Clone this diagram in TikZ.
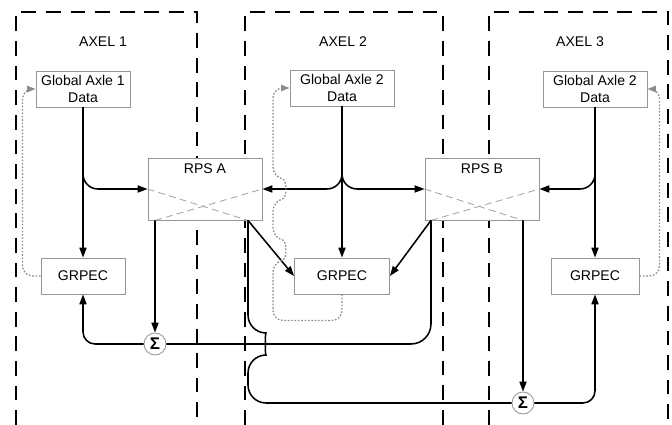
\documentclass[tikz,border=0pt]{standalone}
\usepackage{fontspec}
\setmainfont{Liberation Sans}
\usepackage{xcolor}
\usepackage{tikz}
\usetikzlibrary{
  arrows.meta,
  positioning,
  calc
}
\definecolor{boxgray}{RGB}{150,150,150}
\definecolor{crossgray}{RGB}{165,165,165}
\definecolor{fbgray}{RGB}{140,140,140}

\begin{document}
\begin{tikzpicture}[
  x=0.025cm, y=-0.025cm,
  every node/.style={font=\normalsize},
  axelframe/.style={line width=2pt, dash pattern=on 10.5pt off 7pt},
  datanode/.style={rectangle, draw=boxgray, fill=white, line width=0.6pt,
    align=center, minimum height=0.9cm, inner sep=2pt},
  rpsnode/.style={rectangle, draw=boxgray, fill=white, line width=0.6pt,
    minimum width=2.85cm, minimum height=1.55cm},
  rpslabel/.style={anchor=north, inner sep=4pt},
  sumnode/.style={circle, draw=boxgray, fill=white, line width=0.6pt,
    minimum size=0.55cm, inner sep=0pt, font=\large\bfseries},
  crossline/.style={draw=crossgray, line width=0.6pt, dash pattern=on 5pt off 3pt},
  arr/.style={-{Triangle[length=7pt,width=5pt]}, line width=1.1pt},
  wire/.style={line width=1.1pt},
  fbarr/.style={-{Triangle[length=6pt,width=4.5pt]}, color=fbgray,
    line width=0.9pt, dash pattern=on 1.2pt off 1.2pt},
]
  \useasboundingbox (0,0) rectangle (672,425);

  % Axle frames
  \draw[axelframe] (16,425) -- (16,12) -- (197,12) -- (197,425);
  \draw[axelframe] (245,425) -- (245,12) -- (443,12) -- (443,425);
  \draw[axelframe] (489,425) -- (489,12) -- (668,12) -- (668,425);

  % Nodes
  \node (ax1) at (103,42) {AXEL 1};
  \node (ax2) at (343,42) {AXEL 2};
  \node (ax3) at (580,42) {AXEL 3};
  \node[datanode, minimum width=2.35cm] (g1) at (83,89) {Global Axle 1\\Data};
  \node[datanode, minimum width=2.6cm] (g2) at (342,88) {Global Axle 2\\Data};
  \node[datanode, minimum width=2.6cm] (g3) at (595,89) {Global Axle 2\\Data};
  \node[rpsnode, label={[rpslabel]north:RPS A}] (rpsA) at (205,189) {};
  \node[rpsnode, label={[rpslabel]north:RPS B}] (rpsB) at (482,189) {};
  \node[datanode, minimum width=2.1cm] (gr1) at (83,276) {GRPEC};
  \node[datanode, minimum width=2.375cm] (gr2) at (342,276) {GRPEC};
  \node[datanode, minimum width=2.2cm] (gr3) at (595,276) {GRPEC};
  \node[sumnode] (s1) at (155,344) {Σ};
  \node[sumnode] (s2) at (523,403) {Σ};

  % RPS outputs
  \coordinate (aL) at ([xshift=-1.25cm]rpsA.south);
  \coordinate (aR) at ([xshift=1.075cm]rpsA.south);
  \coordinate (bL) at ([xshift=-1.275cm]rpsB.south);
  \coordinate (bR) at ([xshift=1.025cm]rpsB.south);
  \draw[crossline] (rpsA.west) -- (aR);
  \draw[crossline] (aL) -- (rpsA.east);
  \draw[crossline] (rpsB.west) -- (bR);
  \draw[crossline] (bL) -- (rpsB.east);

  % Edges
  \draw[arr] (g1) -- (gr1);
  \draw[arr, rounded corners=0.375cm] (g1.south) |- (rpsA.west);
  \draw[arr] (g2) -- (gr2);
  \draw[arr, rounded corners=0.375cm] (g2.south) |- (rpsA.east);
  \draw[arr, rounded corners=0.375cm] (g2.south) |- (rpsB.west);
  \draw[arr] (g3) -- (gr3);
  \draw[arr, rounded corners=0.375cm] (g3.south) |- (rpsB.east);
  \draw[arr] (aR) -- (gr2.west);
  \draw[arr] (bL) -- (gr2.east);
  \draw[arr] (aL) -- (s1);
  \draw[arr] (bR) -- (s2);
  \draw[arr, rounded corners=0.3cm] (s1) -| (gr1);
  \draw[arr, rounded corners=0.3cm] (s2) -| (gr3);
  \draw[wire, rounded corners=0.5cm] (bL) |- (s1);
  \draw[wire, rounded corners=0.45cm] (aR) -- ($(aR|-s1)+(0,-11)$)
    .. controls +(17,0) and +(17,0) .. ($(aR|-s1)+(0,11)$) |- (s2);

  % Feedback
  \draw[fbarr, rounded corners=0.25cm] (gr1.west) -| ($(g1.west)+(-13,0)$) -- (g1.west);
  \draw[fbarr, rounded corners=0.25cm] (gr3.east) -| ($(g3.east)+(12,0)$) -- (g3.east);
  \draw[fbarr, rounded corners=0.25cm] (gr2.south) -- ++(0,26) -| (273,262)
    .. controls +(14,-3) and +(14,3) .. (273,238) -- (273,201)
    .. controls +(14,-3) and +(14,3) .. (273,177) |- (g2.west);
\end{tikzpicture}
\end{document}
